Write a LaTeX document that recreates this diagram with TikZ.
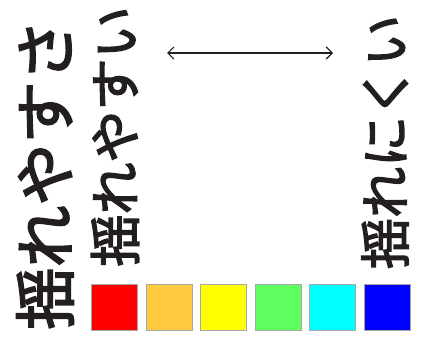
\documentclass[tikz,border=0pt]{standalone}
\usepackage{fontspec}
\newfontfamily\jp[FakeBold=2.8]{Noto Sans CJK JP}
\usetikzlibrary{arrows.meta}
\definecolor{ink}{HTML}{231F20}
\definecolor{cRed}{HTML}{FF0000}
\definecolor{cOrange}{HTML}{FFCC40}
\definecolor{cYellow}{HTML}{FFFF00}
\definecolor{cGreen}{HTML}{60FF60}
\definecolor{cCyan}{HTML}{00FFFF}
\definecolor{cBlue}{HTML}{0000FF}
\tikzset{
  vlabel/.style={inner sep=0pt, rotate=90, text=ink, font=\jp\fontsize{#1}{#1}\selectfont},
  swatch/.style={draw=gray!70, line width=1pt, fill=#1, minimum width=46pt, minimum height=46pt, inner sep=0pt},
}
\begin{document}
\begin{tikzpicture}[x=1pt,y=-1pt]
\useasboundingbox (0,0) rectangle (428,359);
\node[vlabel=62] (big) at (45,174.5) {揺れやすさ};
\node[vlabel=52] (easy) at (115,136.5) {揺れやすい};
\node[vlabel=51] (hard) at (385,142) {揺れにくい};
\coordinate (al) at (167,53);
\coordinate (ar) at (333,53);
\draw[ink, line width=1.2pt, {Straight Barb[length=6pt,width=12pt]}-{Straight Barb[length=6pt,width=12pt]}] (al) -- (ar);
\node[swatch=cRed] (s1) at (114,307) {};
\node[swatch=cOrange] (s2) at (169,307) {};
\node[swatch=cYellow] (s3) at (223,307) {};
\node[swatch=cGreen] (s4) at (278.5,307) {};
\node[swatch=cCyan] (s5) at (332.5,307) {};
\node[swatch=cBlue] (s6) at (387.5,307) {};
\end{tikzpicture}
\end{document}
